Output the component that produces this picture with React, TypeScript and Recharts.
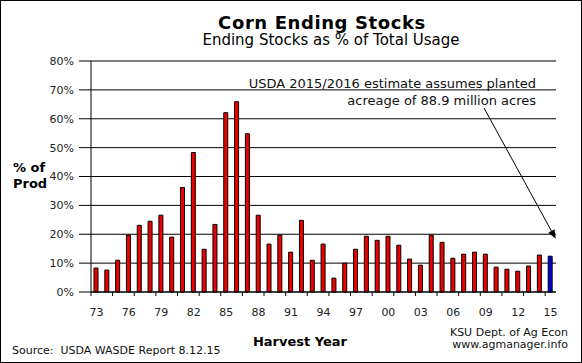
import { Bar, BarChart, CartesianGrid, Cell, ReferenceLine, XAxis, YAxis } from "recharts";

// harvest years (two-digit) and ending stocks as % of total usage
const YEARS = [
  "73", "74", "75", "76", "77", "78", "79", "80", "81", "82", "83",
  "84", "85", "86", "87", "88", "89", "90", "91", "92", "93", "94",
  "95", "96", "97", "98", "99", "00", "01", "02", "03", "04", "05",
  "06", "07", "08", "09", "10", "11", "12", "13", "14", "15",
];
const STOCKS_PCT = [
  8.3, 7.6, 11.0, 19.7, 23.1, 24.5, 26.6, 19.0, 36.2, 48.3, 14.8,
  23.4, 62.1, 65.9, 54.8, 26.6, 16.6, 19.7, 13.8, 24.8, 11.0, 16.6,
  4.8, 10.0, 14.8, 19.3, 17.9, 19.3, 16.2, 11.4, 9.3, 19.7, 17.2,
  11.7, 13.1, 13.8, 13.1, 8.6, 7.9, 7.2, 9.0, 12.8, 12.4,
];
const Y_TICKS = [0, 10, 20, 30, 40, 50, 60, 70, 80];

// arrow from the note down to the 2015 estimate (index units, %)
const ARROW = [
  { x: 35.5, y: 63.7 },
  { x: 41.98, y: 18.4 },
];

const data = YEARS.map((year, i) => ({ year, value: STOCKS_PCT[i] }));

const W = 582;
const H = 363;
const PLOT_LEFT = 91;
const PLOT_RIGHT = 556;
const PLOT_TOP = 61;
const PLOT_BOTTOM = 292;
const X_AXIS_H = 30;
const BAND = (PLOT_RIGHT - PLOT_LEFT) / YEARS.length;

const FONT = "'DejaVu Sans', Verdana, sans-serif";
const RED = "#ee0000";
const BLUE = "#0000dd";

function YearTick(props: any) {
  const { x, payload } = props;
  const i = props.index ?? payload.index;
  const left = x - BAND / 2;
  return (
    <g>
      {i % 2 === 0 && (
        <line x1={left} x2={left} y1={PLOT_BOTTOM} y2={PLOT_BOTTOM + 4} stroke="#000" />
      )}
      {i % 3 === 0 && (
        <text x={x} y={PLOT_BOTTOM + 24} textAnchor="middle" fontSize={11} fill="#222" fontFamily={FONT}>
          {payload.value}
        </text>
      )}
    </g>
  );
}

function ArrowShape(p: any) {
  const { x1, y1, x2, y2 } = p;
  const a = Math.atan2(y2 - y1, x2 - x1);
  const len = 9;
  const wid = 3.5;
  const bx = x2 - len * Math.cos(a);
  const by = y2 - len * Math.sin(a);
  const pts = [
    `${x2},${y2}`,
    `${bx - wid * Math.sin(a)},${by + wid * Math.cos(a)}`,
    `${bx + wid * Math.sin(a)},${by - wid * Math.cos(a)}`,
  ].join(" ");
  return (
    <g>
      <line x1={x1} y1={y1} x2={bx} y2={by} stroke="#000" strokeWidth={1} />
      <polygon points={pts} fill="#000" />
    </g>
  );
}

export default function App() {
  return (
    <div
      style={{
        position: "relative",
        width: W,
        height: H,
        boxSizing: "border-box",
        border: "1px solid #000",
        background: "#fff",
        fontFamily: FONT,
      }}
    >
      <style>{"body{margin:0}"}</style>
      <div style={{ position: "absolute", left: -1, top: -1 }}>
        <BarChart
          width={W}
          height={H}
          data={data}
          margin={{ top: PLOT_TOP, right: W - PLOT_RIGHT, bottom: H - PLOT_BOTTOM - X_AXIS_H, left: 0 }}
        >
          <CartesianGrid vertical={false} stroke="#000" strokeOpacity={1} />
          <XAxis
            dataKey="year"
            interval={0}
            height={X_AXIS_H}
            tickLine={false}
            axisLine={{ stroke: "#000" }}
            tick={<YearTick />}
          />
          <XAxis xAxisId="n" type="number" domain={[0, YEARS.length]} hide />
          <YAxis
            domain={[0, 80]}
            ticks={Y_TICKS}
            width={PLOT_LEFT}
            tickSize={12}
            tickMargin={5}
            tickLine={{ stroke: "#000" }}
            axisLine={{ stroke: "#000" }}
            tick={{ fill: "#222", fontSize: 11, fontFamily: FONT }}
            tickFormatter={(v) => `${v}%`}
          />
          <YAxis
            yAxisId="r"
            orientation="right"
            domain={[0, 80]}
            width={0}
            tick={false}
            tickLine={false}
            axisLine={{ stroke: "#000" }}
          />
          <Bar dataKey="value" barSize={4} stroke="#000" strokeWidth={1} isAnimationActive={false}>
            {data.map((d, i) => (
              <Cell key={d.year} fill={i === data.length - 1 ? BLUE : RED} />
            ))}
          </Bar>
          <ReferenceLine xAxisId="n" segment={ARROW} shape={<ArrowShape />} ifOverflow="visible" />
        </BarChart>
      </div>
      <svg
        width={W}
        height={H}
        style={{ position: "absolute", left: -1, top: -1, pointerEvents: "none" }}
        fontFamily={FONT}
      >
        <text x={322} y={29} textAnchor="middle" fontSize={18} fontWeight="bold" letterSpacing={0.6} fill="#000">
          Corn Ending Stocks
        </text>
        <text x={331} y={45} textAnchor="middle" fontSize={15} fill="#000">
          Ending Stocks as % of Total Usage
        </text>
        <text x={536} y={88} textAnchor="end" fontSize={13} fill="#111">
          USDA 2015/2016 estimate assumes planted
        </text>
        <text x={536} y={105} textAnchor="end" fontSize={13} fill="#111">
          acreage of 88.9 million acres
        </text>
        <text x={13} y={172} fontSize={13} fontWeight="bold" fill="#000">
          % of
        </text>
        <text x={13} y={188} fontSize={13} fontWeight="bold" fill="#000">
          Prod
        </text>
        <text x={300} y={346} textAnchor="middle" fontSize={13} fontWeight="bold" fill="#000">
          Harvest Year
        </text>
        <text x={12} y={354} fontSize={11} fill="#111" style={{ whiteSpace: "pre" }}>
          {"Source:  USDA WASDE Report 8.12.15"}
        </text>
        <text x={568} y={336} textAnchor="end" fontSize={11} fill="#111">
          KSU Dept. of Ag Econ
        </text>
        <text x={568} y={348} textAnchor="end" fontSize={11} fill="#111">
          www.agmanager.info
        </text>
      </svg>
    </div>
  );
}
